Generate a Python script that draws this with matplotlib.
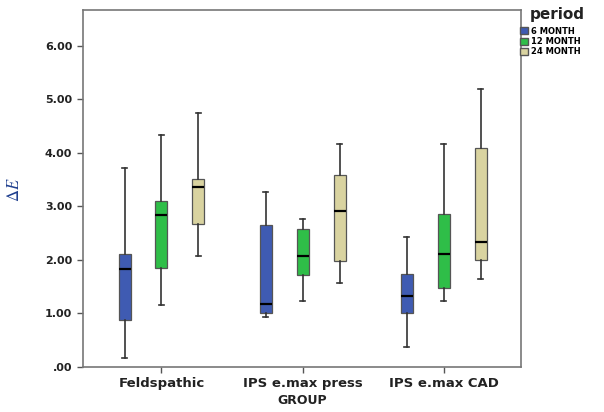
import matplotlib
matplotlib.use("Agg")
import matplotlib.pyplot as plt
from matplotlib.patches import Patch

plt.rcParams["mathtext.fontset"] = "stix"

groups = ["Feldspathic", "IPS e.max press", "IPS e.max CAD"]
periods = ["6 MONTH", "12 MONTH", "24 MONTH"]
colors = ["#3F5BB2", "#2FBE48", "#D9D3A0"]

# five-number summaries per period: [whisker_low, q1, median, q3, whisker_high] per group
m6 = [[0.17, 0.88, 1.82, 2.10, 3.72],
      [0.92, 1.00, 1.18, 2.65, 3.27],
      [0.37, 1.01, 1.33, 1.73, 2.42]]
m12 = [[1.16, 1.85, 2.83, 3.10, 4.34],
       [1.23, 1.72, 2.06, 2.57, 2.76],
       [1.22, 1.48, 2.11, 2.85, 4.17]]
m24 = [[2.07, 2.66, 3.36, 3.51, 4.75],
       [1.56, 1.97, 2.91, 3.58, 4.17],
       [1.63, 2.00, 2.33, 4.09, 5.20]]
series = [m6, m12, m24]

yticks = [0, 1, 2, 3, 4, 5, 6]
ytick_labels = [".00", "1.00", "2.00", "3.00", "4.00", "5.00", "6.00"]

fig = plt.figure(figsize=(6.04, 4.12), dpi=100)
ax = fig.add_axes([0.137, 0.110, 0.726, 0.866])

offsets = [-0.262, 0.0, 0.262]
width = 0.085
for si, data in enumerate(series):
    stats = []
    for d in data:
        stats.append(dict(whislo=d[0], q1=d[1], med=d[2], q3=d[3], whishi=d[4], fliers=[]))
    pos = [gi + offsets[si] for gi in range(len(groups))]
    ax.bxp(stats, positions=pos, widths=width, patch_artist=True, showfliers=False,
           boxprops=dict(facecolor=colors[si], edgecolor="#555555", linewidth=0.9),
           medianprops=dict(color="black", linewidth=1.6),
           whiskerprops=dict(color="#333333", linewidth=1.2),
           capprops=dict(color="#333333", linewidth=1.2), capwidths=0.035)

ax.set_xlim(-0.558, 2.55)
ax.set_ylim(0, 6.67)
ax.set_yticks(yticks)
ax.set_yticklabels(ytick_labels, fontsize=8, fontweight="bold", color="#222222")
ax.set_xticks(range(len(groups)))
ax.set_xticklabels(groups, fontsize=9.5, fontweight="bold", color="#222222")
ax.set_xlabel("GROUP", fontsize=9, fontweight="bold", color="#222222", labelpad=3)
ax.set_ylabel(r"$\Delta E$", fontsize=12, color="#1F3F8F")
ax.yaxis.set_label_coords(-0.137, 0.495)
ax.tick_params(axis="both", length=4, color="#555555", width=1)
for s in ax.spines.values():
    s.set_color("#777777")
    s.set_linewidth(1.2)

fig.text(0.877, 0.965, "period", fontsize=11, fontweight="bold", color="#222222", va="center", ha="left")
handles = [Patch(facecolor=c, edgecolor="#555555", label=p) for c, p in zip(colors, periods)]
leg = fig.legend(handles=handles, loc="upper left", bbox_to_anchor=(0.861, 0.935), frameon=False,
                 prop=dict(size=6, weight="bold"), handlelength=1.0, handleheight=0.9,
                 handletextpad=0.3, labelspacing=0.15, borderaxespad=0, borderpad=0)

fig.savefig("out.png", dpi=100)
